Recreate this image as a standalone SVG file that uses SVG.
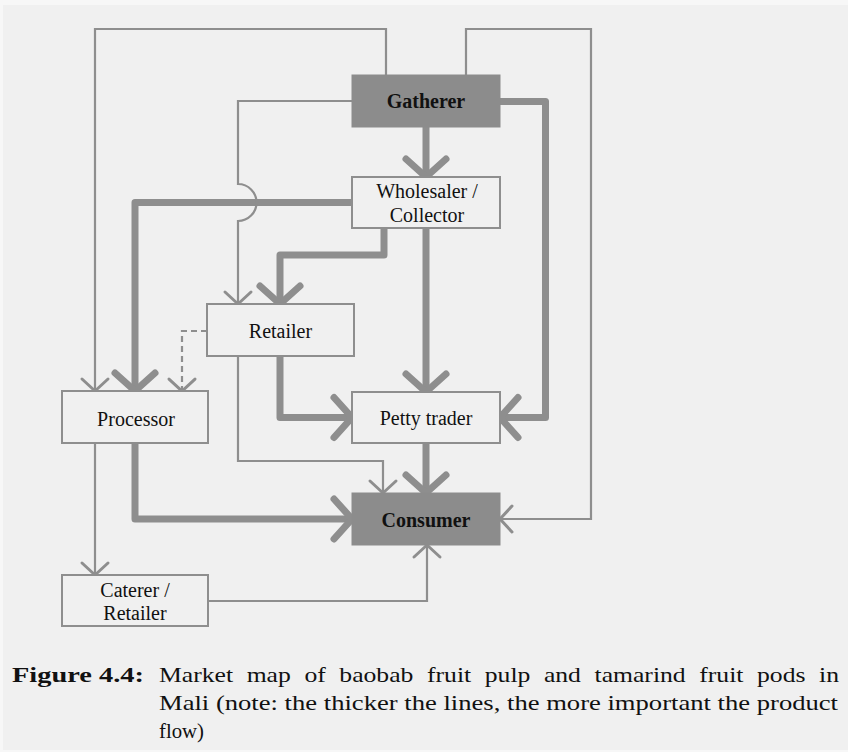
<svg xmlns="http://www.w3.org/2000/svg" width="848" height="752" viewBox="0 0 848 752">
<style>
.thick{fill:none;stroke:#8e8e8e;stroke-width:7;stroke-linejoin:round}
.thin{fill:none;stroke:#8e8e8e;stroke-width:2.2}
.dash{fill:none;stroke:#8e8e8e;stroke-width:2.2;stroke-dasharray:6 4}
.box{fill:#f0f0f0;stroke:#8e8e8e;stroke-width:2}
.dark{fill:#8c8c8c;stroke:#8c8c8c;stroke-width:1}
.lbl{font-family:"Liberation Serif","Times New Roman",serif;font-size:20px;fill:#111;text-anchor:middle}
.bold{font-weight:bold}
.cap{font-family:"Liberation Serif","Times New Roman",serif;font-size:21.5px;fill:#111}
</style>
<defs>
<marker id="ahk" markerUnits="userSpaceOnUse" markerWidth="60" markerHeight="60" viewBox="-30 -30 60 60" refX="0" refY="0" orient="auto" overflow="visible">
<polyline points="-18,-20 0,0 -18,20" fill="none" stroke="#8e8e8e" stroke-width="7" stroke-linecap="round" stroke-linejoin="round"/>
</marker>
<marker id="aht" markerUnits="userSpaceOnUse" markerWidth="40" markerHeight="40" viewBox="-20 -20 40 40" refX="0" refY="0" orient="auto" overflow="visible">
<polyline points="-12,-13 0,0 -12,13" fill="none" stroke="#8e8e8e" stroke-width="3" stroke-linecap="round" stroke-linejoin="round"/>
</marker>
</defs>
<rect x="0" y="0" width="848" height="752" fill="#f7f7f7"/>
<rect x="3" y="5" width="845" height="745" fill="#f0f0f0"/>
<g id="connectors">
<path class="thick" d="M426,127 V177" marker-end="url(#ahk)"/>
<path class="thick" d="M500,101.5 H545.5 V417.5 H500" marker-end="url(#ahk)"/>
<path class="thick" d="M352,202.5 H135 V391" marker-end="url(#ahk)"/>
<path class="thick" d="M384,228 V255 H280 V304" marker-end="url(#ahk)"/>
<path class="thick" d="M426,228 V392" marker-end="url(#ahk)"/>
<path class="thick" d="M280,356 V417.5 H352" marker-end="url(#ahk)"/>
<path class="thick" d="M426,443 V493" marker-end="url(#ahk)"/>
<path class="thick" d="M135,443 V519 H352" marker-end="url(#ahk)"/>
<path class="thin" d="M386,75 V29 H95 V391" marker-end="url(#aht)"/>
<path class="thin" d="M466,75 V29 H591 V519 H500" marker-end="url(#aht)"/>
<path class="thin" d="M352,101 H238 V184 A18.5,18.5 0 0 1 238,221 V304" marker-end="url(#aht)"/>
<path class="thin" d="M238,356 V461 H383 V493" marker-end="url(#aht)"/>
<path class="thin" d="M95,443 V575" marker-end="url(#aht)"/>
<path class="thin" d="M208,601 H427 V545" marker-end="url(#aht)"/>
<path class="dash" d="M207,331 H182 V391"/>
<path class="thin" d="M182,391 V391.1" marker-end="url(#aht)" stroke="none"/>
</g>
<g id="gatherer"><rect class="dark" x="352" y="75" width="148" height="52"/><text class="lbl bold" x="426" y="108">Gatherer</text></g>
<g id="wholesaler"><rect class="box" x="352" y="177" width="148" height="51"/><text class="lbl" x="427" y="198">Wholesaler /</text><text class="lbl" x="427" y="222">Collector</text></g>
<g id="retailer"><rect class="box" x="207" y="304" width="147" height="52"/><text class="lbl" x="280.5" y="338">Retailer</text></g>
<g id="processor"><rect class="box" x="62" y="391" width="146" height="52"/><text class="lbl" x="136" y="426">Processor</text></g>
<g id="petty-trader"><rect class="box" x="352" y="392" width="148" height="51"/><text class="lbl" x="426" y="425">Petty trader</text></g>
<g id="consumer"><rect class="dark" x="352" y="493" width="148" height="52"/><text class="lbl bold" x="426" y="527">Consumer</text></g>
<g id="caterer"><rect class="box" x="62" y="575" width="146" height="51"/><text class="lbl" x="135" y="597">Caterer /</text><text class="lbl" x="135" y="620">Retailer</text></g>
<g id="caption">
<text class="cap" x="12" y="682" font-weight="bold" textLength="132" lengthAdjust="spacingAndGlyphs">Figure 4.4:</text>
<text class="cap" x="159" y="682" word-spacing="6" textLength="680" lengthAdjust="spacingAndGlyphs">Market map of baobab fruit pulp and tamarind fruit pods in</text>
<text class="cap" x="159" y="710" textLength="679" lengthAdjust="spacingAndGlyphs">Mali (note: the thicker the lines, the more important the product</text>
<text class="cap" x="159" y="738" textLength="45" lengthAdjust="spacingAndGlyphs">flow)</text>
</g>
</svg>
